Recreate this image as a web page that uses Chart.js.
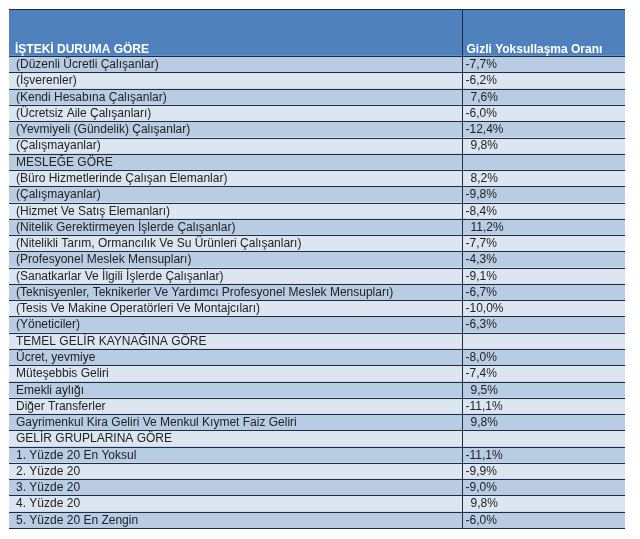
<!DOCTYPE html>
<html>
<head>
<meta charset="utf-8">
<script src="https://cdn.jsdelivr.net/npm/chart.js@4.4.1/dist/chart.umd.min.js"></script>
<style>
  html, body { margin: 0; padding: 0; background: #ffffff; }
  #wrap { width: 640px; height: 539px; position: relative; }
</style>
</head>
<body>
<div id="wrap"><canvas id="c"></canvas></div>
<script>
// ---- data ----
const columnTitles = ['İŞTEKİ DURUMA GÖRE', 'Gizli Yoksullaşma Oranı'];

const categories = [
  '(Düzenli Ücretli Çalışanlar)',
  '(İşverenler)',
  '(Kendi Hesabına Çalışanlar)',
  '(Ücretsiz Aile Çalışanları)',
  '(Yevmiyeli (Gündelik) Çalışanlar)',
  '(Çalışmayanlar)',
  'MESLEĞE GÖRE',
  '(Büro Hizmetlerinde Çalışan Elemanlar)',
  '(Çalışmayanlar)',
  '(Hizmet Ve Satış Elemanları)',
  '(Nitelik Gerektirmeyen İşlerde Çalışanlar)',
  '(Nitelikli Tarım, Ormancılık Ve Su Ürünleri Çalışanları)',
  '(Profesyonel Meslek Mensupları)',
  '(Sanatkarlar Ve İlgili İşlerde Çalışanlar)',
  '(Teknisyenler, Teknikerler Ve Yardımcı Profesyonel Meslek Mensupları)',
  '(Tesis Ve Makine Operatörleri Ve Montajcıları)',
  '(Yöneticiler)',
  'TEMEL GELİR KAYNAĞINA GÖRE',
  'Ücret, yevmiye',
  'Müteşebbis Geliri',
  'Emekli aylığı',
  'Diğer Transferler',
  'Gayrimenkul Kira Geliri Ve Menkul Kıymet Faiz Geliri',
  'GELİR GRUPLARINA GÖRE',
  '1. Yüzde 20 En Yoksul',
  '2. Yüzde 20',
  '3. Yüzde 20',
  '4. Yüzde 20',
  '5. Yüzde 20 En Zengin'
];

const values = [
  -7.7, -6.2, 7.6, -6.0, -12.4, 9.8,
  null,
  8.2, -9.8, -8.4, 11.2, -7.7, -4.3, -9.1, -6.7, -10.0, -6.3,
  null,
  -8.0, -7.4, 9.5, -11.1, 9.8,
  null,
  -11.1, -9.9, -9.0, 9.8, -6.0
];

// ---- styling constants ----
const HEADER_UNITS = 2.9;          // header height, in row units
const VALUE_COL = 0.735;           // where the value column starts (fraction of table width)
const COL_HEADER = '#4f81bd';
const COL_DARK_ROW = '#b8cce4';
const COL_LIGHT_ROW = '#dce6f1';
const COL_LINE = '#1e2b40';
const COL_TEXT = '#222222';
const FONT = '"Liberation Sans", Arial, sans-serif';

function fmt(v) {
  return v.toFixed(1).replace('.', ',') + '%';
}

const rows = categories.map((c, i) => ({ y: i + 0.5, x: [0, 1] }));

const tablePlugin = {
  id: 'tablePlugin',
  beforeDatasetsDraw(chart) {
    const ctx = chart.ctx;
    const xs = chart.scales.x, ys = chart.scales.y;
    const x0 = xs.getPixelForValue(0), x1 = xs.getPixelForValue(1);
    const yh0 = ys.getPixelForValue(-HEADER_UNITS), yh1 = ys.getPixelForValue(0);
    ctx.save();
    ctx.fillStyle = COL_HEADER;
    ctx.fillRect(x0, yh0, x1 - x0, yh1 - yh0);
    ctx.restore();
  },
  afterDatasetsDraw(chart) {
    const ctx = chart.ctx;
    const xs = chart.scales.x, ys = chart.scales.y;
    const x0 = xs.getPixelForValue(0), x1 = xs.getPixelForValue(1);
    const xc = Math.round(xs.getPixelForValue(VALUE_COL)) + 0.5;
    const yTop = ys.getPixelForValue(-HEADER_UNITS);
    const yBot = ys.getPixelForValue(categories.length);
    ctx.save();
    // horizontal lines
    ctx.strokeStyle = COL_LINE;
    ctx.lineWidth = 1;
    ctx.beginPath();
    for (let i = 0; i <= categories.length; i++) {
      const y = Math.round(ys.getPixelForValue(i)) + 0.5;
      ctx.moveTo(x0, y); ctx.lineTo(x1, y);
    }
    const yt = Math.round(yTop) + 0.5;
    ctx.moveTo(x0, yt); ctx.lineTo(x1, yt);
    ctx.stroke();
    // vertical divider
    ctx.beginPath();
    ctx.moveTo(xc, yTop); ctx.lineTo(xc, yBot);
    ctx.stroke();

    // header text
    ctx.fillStyle = '#ffffff';
    ctx.font = 'bold 12px ' + FONT;
    ctx.textBaseline = 'alphabetic';
    ctx.textAlign = 'left';
    const yhText = ys.getPixelForValue(-0.22);
    ctx.fillText(columnTitles[0], x0 + 6, yhText);
    ctx.fillText(columnTitles[1], xc + 4, yhText);

    // rows
    ctx.fillStyle = COL_TEXT;
    ctx.font = '12px ' + FONT;
    ctx.textBaseline = 'middle';
    categories.forEach((label, i) => {
      const y = ys.getPixelForValue(i + 0.5) + 0.5;
      ctx.fillText(label, x0 + 7, y);
      const v = values[i];
      if (v !== null && v !== undefined) {
        ctx.fillText(fmt(v), xc + (v < 0 ? 3 : 8), y);
      }
    });
    ctx.restore();
  }
};

new Chart(document.getElementById('c'), {
  type: 'bar',
  data: {
    datasets: [{
      data: rows,
      backgroundColor: (c) => (c.dataIndex % 2 === 0 ? COL_DARK_ROW : COL_LIGHT_ROW),
      borderWidth: 0,
      barPercentage: 1,
      categoryPercentage: 1
    }]
  },
  options: {
    indexAxis: 'y',
    responsive: true,
    maintainAspectRatio: false,
    animation: false,
    layout: { padding: { left: 9, right: 15, top: 9, bottom: 11 } },
    plugins: { legend: { display: false }, tooltip: { enabled: false } },
    scales: {
      x: { type: 'linear', min: 0, max: 1, display: false },
      y: { type: 'linear', min: -HEADER_UNITS, max: categories.length, reverse: true, offset: false, display: false }
    }
  },
  plugins: [tablePlugin]
});
</script>
</body>
</html>
